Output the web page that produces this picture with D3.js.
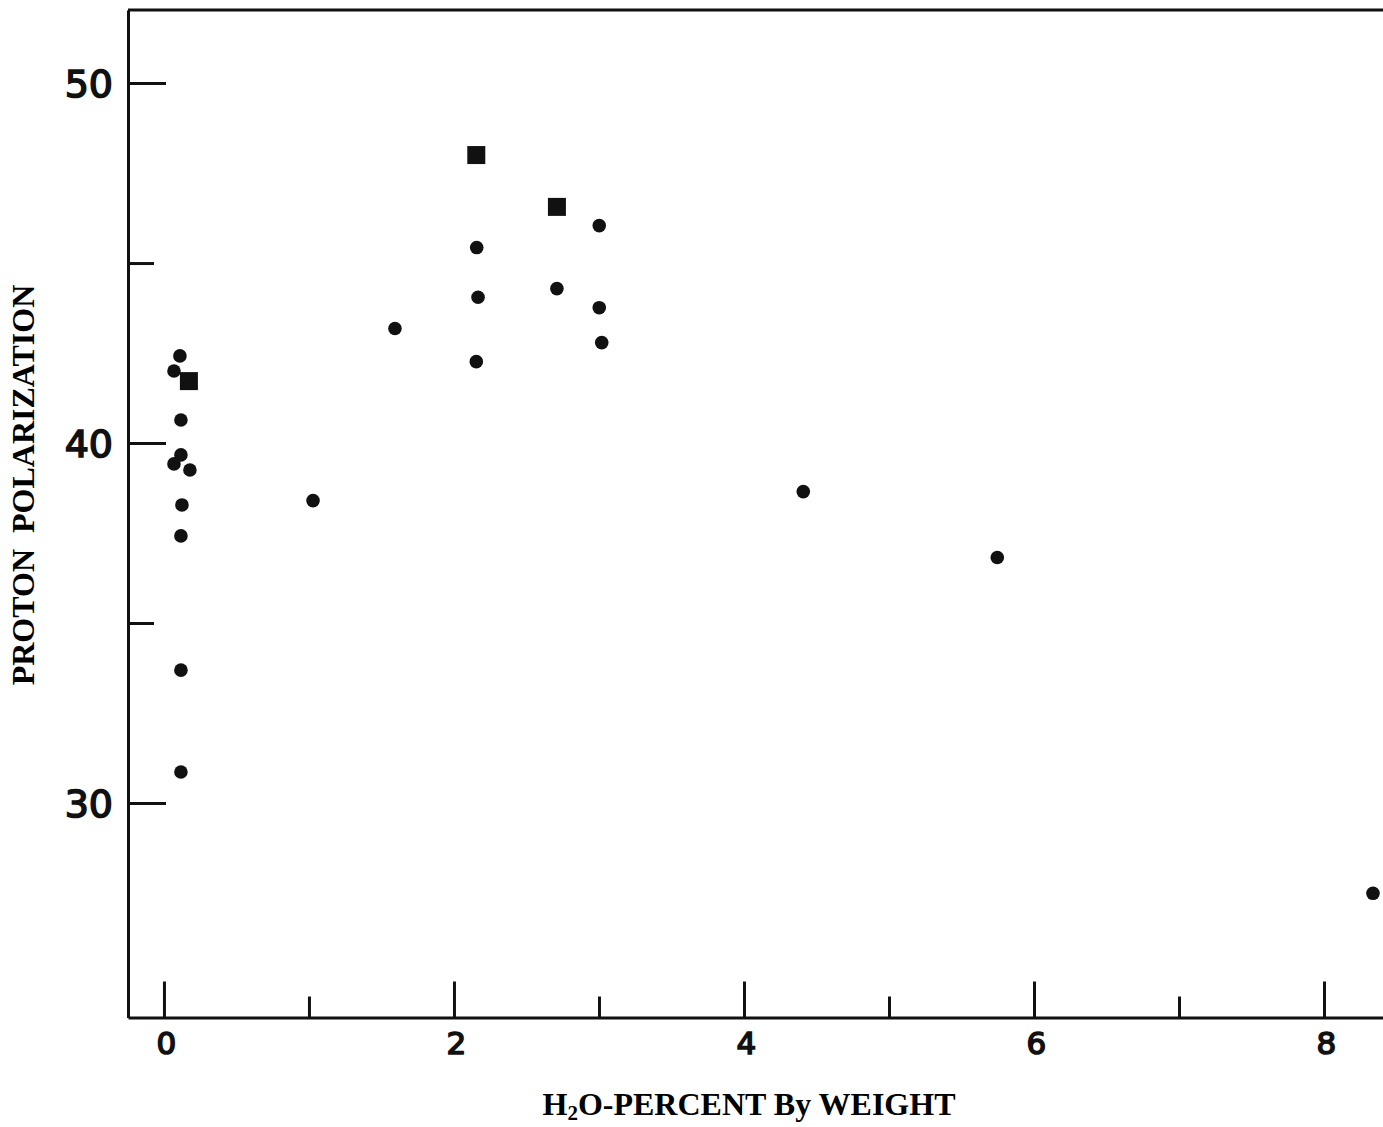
<!DOCTYPE html>
<html>
<head>
<meta charset="utf-8">
<script src="https://cdn.jsdelivr.net/npm/d3@7"></script>
<style>
  html, body { margin: 0; padding: 0; background: #fff; }
  svg { display: block; }
</style>
</head>
<body>
<svg id="chart" width="1383" height="1127"></svg>
<script>
// ---- data ----
const circleX = [0.110, 0.069, 0.117, 0.117, 0.069, 0.179, 0.124, 0.117, 0.117, 0.117,
                 1.028, 1.593, 2.157, 2.166, 2.154, 2.710, 3.002, 3.002, 3.019,
                 4.409, 5.747, 8.338];
const circleY = [42.42, 42.00, 40.64, 39.67, 39.42, 39.25, 38.28, 37.42, 33.69, 30.86,
                 38.40, 43.18, 45.43, 44.05, 42.26, 44.29, 46.04, 43.76, 42.79,
                 38.65, 36.82, 27.49];
const squareX = [0.172, 2.154, 2.710];
const squareY = [41.72, 48.00, 46.56];

const xMajorTicks = [0, 2, 4, 6, 8];
const xMinorTicks = [1, 3, 5, 7];
const yMajorTicks = [30, 40, 50];
const yMinorTicks = [35, 45];

const xDomain = [-0.248, 8.407];
const yDomain = [24.04, 52.03];

const xTitleMain = ["H", "O-PERCENT By WEIGHT"];
const xTitleSub = "2";
const yTitle = "PROTON\u00A0\u00A0POLARIZATION";

// ---- layout ----
const svg = d3.select("#chart");
const x = d3.scaleLinear().domain(xDomain).range([128, 1383]);
const y = d3.scaleLinear().domain(yDomain).range([1017.5, 10]);

const ink = "#111";

// Y axis (major, with labels)
const gy = svg.append("g").attr("transform", `translate(${x(xDomain[0])},0)`)
  .call(d3.axisLeft(y).tickValues(yMajorTicks).tickSizeInner(-38).tickSizeOuter(0).tickPadding(15)
        .tickFormat(d3.format("d")));
gy.select(".domain").attr("stroke", ink).attr("stroke-width", 3);
gy.selectAll(".tick line").attr("stroke", ink).attr("stroke-width", 3);
gy.selectAll(".tick text")
  .attr("font-family", "'DejaVu Sans', sans-serif")
  .attr("font-size", 38)
  .attr("fill", ink)
  .attr("stroke", ink).attr("stroke-width", 1.6)
  .attr("dy", "0.36em");

// Y axis minor ticks
const gym = svg.append("g").attr("transform", `translate(${x(xDomain[0])},0)`)
  .call(d3.axisLeft(y).tickValues(yMinorTicks).tickSizeInner(-26).tickSizeOuter(0).tickFormat(""));
gym.select(".domain").remove();
gym.selectAll(".tick line").attr("stroke", ink).attr("stroke-width", 3);

// X axis (major, with labels)
const gx = svg.append("g").attr("transform", `translate(0,${y(yDomain[0])})`)
  .call(d3.axisBottom(x).tickValues(xMajorTicks).tickSizeInner(-36).tickSizeOuter(0).tickPadding(14)
        .tickFormat(d3.format("d")));
gx.select(".domain").attr("stroke", ink).attr("stroke-width", 3);
gx.selectAll(".tick line").attr("stroke", ink).attr("stroke-width", 3);
gx.selectAll(".tick text")
  .attr("font-family", "'DejaVu Sans', sans-serif")
  .attr("font-size", 31)
  .attr("fill", ink)
  .attr("stroke", ink).attr("stroke-width", 1.6)
  .attr("dx", 2);

// X axis minor ticks
const gxm = svg.append("g").attr("transform", `translate(0,${y(yDomain[0])})`)
  .call(d3.axisBottom(x).tickValues(xMinorTicks).tickSizeInner(-21).tickSizeOuter(0).tickFormat(""));
gxm.select(".domain").remove();
gxm.selectAll(".tick line").attr("stroke", ink).attr("stroke-width", 3);

// Top frame line
svg.append("line")
  .attr("x1", x(xDomain[0])).attr("x2", x(xDomain[1]))
  .attr("y1", y(yDomain[1])).attr("y2", y(yDomain[1]))
  .attr("stroke", ink).attr("stroke-width", 3);

// Points: circles
const circles = circleX.map((v, i) => ({ x: v, y: circleY[i] }));
svg.append("g").selectAll("circle").data(circles).join("circle")
  .attr("cx", d => x(d.x)).attr("cy", d => y(d.y))
  .attr("r", 6.8).attr("fill", ink);

// Points: squares
const squares = squareX.map((v, i) => ({ x: v, y: squareY[i] }));
const sq = 18;
svg.append("g").selectAll("rect").data(squares).join("rect")
  .attr("x", d => x(d.x) - sq / 2).attr("y", d => y(d.y) - sq / 2)
  .attr("width", sq).attr("height", sq).attr("fill", ink);

// Axis titles
const xt = svg.append("text")
  .attr("x", 749).attr("y", 1115)
  .attr("text-anchor", "middle")
  .attr("font-family", "'Liberation Serif', 'Times New Roman', serif")
  .attr("font-weight", "bold")
  .attr("font-size", 32)
  .attr("fill", "#000");
xt.append("tspan").text(xTitleMain[0]);
xt.append("tspan").text(xTitleSub).attr("font-size", 21).attr("dy", 5);
xt.append("tspan").text(xTitleMain[1]).attr("dy", -5);

svg.append("text")
  .attr("transform", "translate(34,485) rotate(-90)")
  .attr("text-anchor", "middle")
  .attr("font-family", "'Liberation Serif', 'Times New Roman', serif")
  .attr("font-weight", "bold")
  .attr("font-size", 32)
  .attr("fill", "#000")
  .text(yTitle);
</script>
</body>
</html>
